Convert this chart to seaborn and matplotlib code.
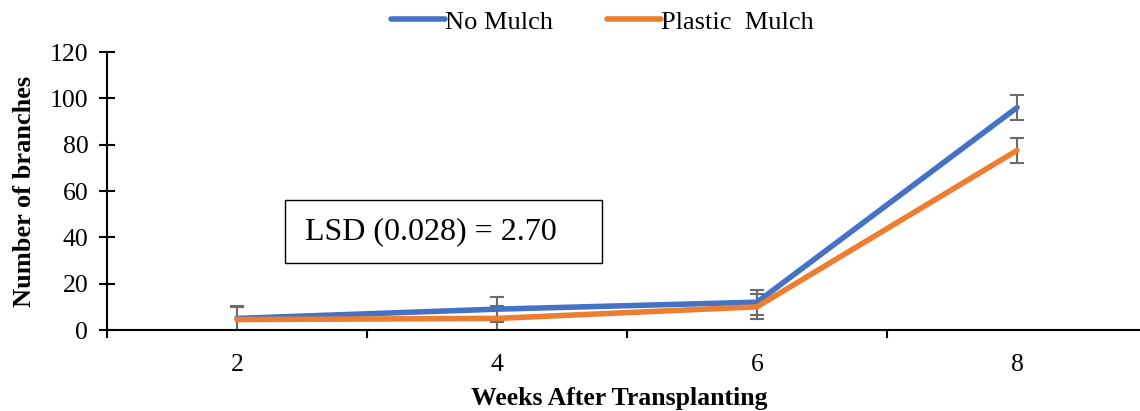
import numpy as np
import pandas as pd
import matplotlib
matplotlib.use("Agg")
import matplotlib.pyplot as plt
from matplotlib.patches import Rectangle
import seaborn as sns

# --- data ---
weeks = ["2", "4", "6", "8"]
no_mulch = [5, 9, 12, 96]
plastic_mulch = [4.5, 5, 10, 77.5]
no_mulch_err = [5.4, 5.4, 5.4, 5.4]
plastic_mulch_err = [5.4, 5.4, 5.4, 5.4]
series_names = ["No Mulch", "Plastic  Mulch"]
colors = ["#4472C4", "#ED7D31"]

sns.set_theme(style="white")
plt.rcParams["font.family"] = ["Liberation Serif", "DejaVu Serif"]
plt.rcParams["text.color"] = "black"
plt.rcParams["axes.labelcolor"] = "black"

pos = np.arange(len(weeks))
df = pd.DataFrame({
    "pos": np.concatenate([pos, pos]),
    "value": no_mulch + plastic_mulch,
    "series": [series_names[0]] * len(weeks) + [series_names[1]] * len(weeks),
})

fig = plt.figure(figsize=(11.4, 4.11), dpi=100)
ax = fig.add_axes([107 / 1140, (411 - 330) / 411, 1040 / 1140, (330 - 52) / 411])

# error bars first, lines on top
for vals, errs in [(no_mulch, no_mulch_err), (plastic_mulch, plastic_mulch_err)]:
    ax.errorbar(pos, vals, yerr=errs, fmt="none", ecolor="#6b6b6b",
                elinewidth=1.5, capsize=4.7, capthick=1.5, zorder=1)

sns.lineplot(data=df, x="pos", y="value", hue="series", palette=colors,
             linewidth=4, ax=ax, legend=True, solid_capstyle="round", zorder=3)

ax.set_xlim(-0.5, len(weeks) - 0.5)
ax.set_ylim(0, 120)
ax.set_yticks(range(0, 121, 20))
ax.set_xticks(pos)
ax.set_xticklabels(weeks)
ax.set_xticks(np.arange(-0.5, len(weeks), 1), minor=True)
ax.tick_params(axis="x", which="major", bottom=True, length=0, labelsize=18.5,
               pad=17, labelcolor="black")
ax.tick_params(axis="x", which="minor", bottom=True, length=6, width=1.5,
               direction="out", color="black")
ax.tick_params(axis="y", left=True, length=11, width=1.5, direction="inout",
               color="black", labelsize=18.5, pad=8, labelcolor="black")

for side in ["top", "right"]:
    ax.spines[side].set_visible(False)
for side in ["left", "bottom"]:
    ax.spines[side].set_color("black")
    ax.spines[side].set_linewidth(1.5)

ax.set_xlabel("Weeks After Transplanting", fontsize=18.5, fontweight="bold")
ax.xaxis.set_label_coords(0.493, -0.205)
ax.set_ylabel("Number of branches", fontsize=19, fontweight="bold")
ax.yaxis.set_label_coords(-0.068, 0.5)

ax.legend(loc="center", bbox_to_anchor=(0.476, 1.108), ncol=2, frameon=False,
          fontsize=19, handlelength=2.05, handletextpad=0.0, columnspacing=2.05,
          borderaxespad=0)

# LSD annotation box
ax.add_patch(Rectangle((0.171, 0.241), 0.305, 0.227, transform=ax.transAxes,
                       facecolor="white", edgecolor="black", linewidth=1, zorder=4))
ax.text(0.190, 0.353, "LSD (0.028) = 2.70", transform=ax.transAxes, fontsize=23,
        va="center", ha="left", zorder=5)

fig.savefig("out.png", dpi=100)
